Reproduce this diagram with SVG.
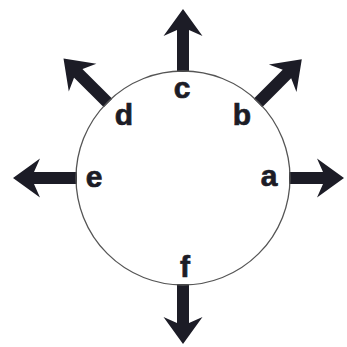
<svg xmlns="http://www.w3.org/2000/svg" xmlns:xlink="http://www.w3.org/1999/xlink" width="347" height="347" viewBox="0 0 347 347">
<style>
.lbl{font-family:"Liberation Sans",Arial,sans-serif;font-weight:bold;font-size:30px;fill:#1c1c26;stroke:#1c1c26;stroke-width:0.7;text-anchor:middle}
.head{fill:#1c1c26}
.shaft{stroke:#1c1c26;stroke-width:12;fill:none}
</style>
<defs>
<path id="head" d="M0,0 L-27,-19.5 L-21,-6 L-21,6 L-27,19.5 Z"/>
</defs>
<rect width="347" height="347" fill="#ffffff"/>
<g id="connectors">
<g transform="translate(183,178) rotate(0)"><line class="shaft" x1="106" y1="0" x2="141" y2="0"/><use class="head" xlink:href="#head" x="161" y="0"/></g>
<g transform="translate(183,178) rotate(-45)"><line class="shaft" x1="106" y1="0" x2="148" y2="0"/><use class="head" xlink:href="#head" x="168" y="0"/></g>
<g transform="translate(183,178) rotate(-90)"><line class="shaft" x1="106" y1="0" x2="149" y2="0"/><use class="head" xlink:href="#head" x="169" y="0"/></g>
<g transform="translate(183,178) rotate(-135)"><line class="shaft" x1="106" y1="0" x2="149" y2="0"/><use class="head" xlink:href="#head" x="169" y="0"/></g>
<g transform="translate(183,178) rotate(180)"><line class="shaft" x1="106" y1="0" x2="150" y2="0"/><use class="head" xlink:href="#head" x="170" y="0"/></g>
<g transform="translate(183,178) rotate(90)"><line class="shaft" x1="106" y1="0" x2="146" y2="0"/><use class="head" xlink:href="#head" x="166" y="0"/></g>
</g>
<g id="circle"><circle cx="183" cy="178" r="107" fill="none" stroke="#555" stroke-width="1.3"/></g>
<g id="a"><text class="lbl" x="269" y="186">a</text></g>
<g id="b"><text class="lbl" x="242" y="125">b</text></g>
<g id="c"><text class="lbl" x="182" y="98">c</text></g>
<g id="d"><text class="lbl" x="124" y="125">d</text></g>
<g id="e"><text class="lbl" x="94" y="187">e</text></g>
<g id="f"><text class="lbl" x="185" y="277">f</text></g>
</svg>
